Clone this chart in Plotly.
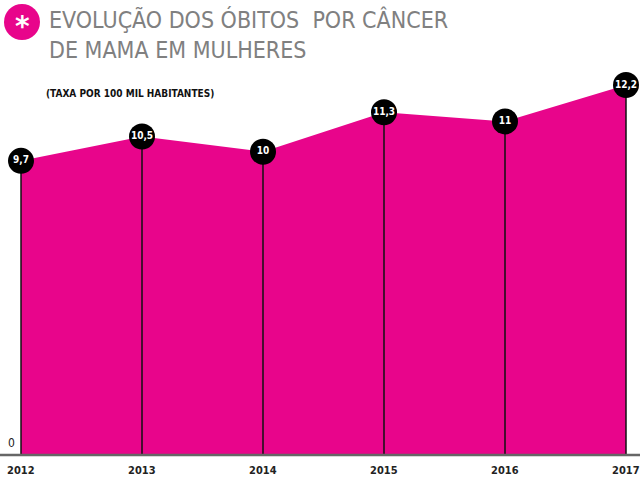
import plotly.graph_objects as go

years = [2012, 2013, 2014, 2015, 2016, 2017]
rates = [9.7, 10.5, 10.0, 11.3, 11.0, 12.2]
labels = ["9,7", "10,5", "10", "11,3", "11", "12,2"]

W, H = 640, 480
PINK = "#E8058B"
COND = "DejaVu Sans Condensed, Liberation Sans Narrow, sans-serif"

fig = go.Figure()

# pink area
fig.add_trace(go.Scatter(x=years, y=rates, mode="lines", fill="tozeroy",
                         line=dict(color=PINK, width=0), fillcolor=PINK,
                         hoverinfo="skip", showlegend=False))

# vertical drop lines
vx, vy = [], []
for yr, v in zip(years, rates):
    vx += [yr, yr, None]
    vy += [v, 0, None]
fig.add_trace(go.Scatter(x=vx, y=vy, mode="lines", line=dict(color="#111", width=1.5),
                         hoverinfo="skip", showlegend=False))

# markers with value labels
fig.add_trace(go.Scatter(x=years, y=rates, mode="markers+text", text=labels,
                         textposition="middle center",
                         textfont=dict(color="white", size=10, family=COND, weight="bold"),
                         marker=dict(color="black", size=26, line=dict(width=0)),
                         hoverinfo="skip", showlegend=False))

px_per_year = (626 - 21) / 5
x0 = years[0] - 21 / px_per_year
x1 = years[-1] + (W - 626) / px_per_year
scale = (455 - 85) / 12.2
y0 = -(H - 455) / scale
y1 = 455 / scale

fig.update_layout(
    width=W, height=H, margin=dict(l=0, r=0, t=0, b=0),
    paper_bgcolor="white", plot_bgcolor="white",
    xaxis=dict(range=[x0, x1], visible=False, fixedrange=True),
    yaxis=dict(range=[y0, y1], visible=False, fixedrange=True),
)

# baseline
fig.add_shape(type="line", xref="paper", yref="y", x0=0, x1=1, y0=0, y1=0,
              line=dict(color="#666", width=2.5))

# year labels
for yr in years:
    fig.add_annotation(x=yr, y=0, xref="x", yref="y", text=str(yr), showarrow=False,
                       yshift=-15, font=dict(family=COND, size=11, color="#222", weight="bold"))

fig.add_annotation(x=years[0], y=0, xref="x", yref="y", text="0", showarrow=False,
                   xanchor="right", xshift=-4, yshift=12,
                   font=dict(family=COND, size=12, color="#222"))

# title block
fig.add_shape(type="circle", xref="paper", yref="paper",
              x0=4 / W, x1=40 / W, y0=1 - 40 / H, y1=1 - 4 / H,
              fillcolor=PINK, line=dict(width=0))
fig.add_annotation(x=22 / W, y=1 - 22 / H, xref="paper", yref="paper", text="*",
                   showarrow=False, xanchor="center", yanchor="middle", yshift=-5,
                   font=dict(family="DejaVu Sans", size=28, color="white", weight="bold"))
fig.add_annotation(x=47 / W, y=1 - 4 / H, xref="paper", yref="paper",
                   text="EVOLUÇÃO DOS ÓBITOS  POR CÂNCER<br>DE MAMA EM MULHERES",
                   showarrow=False, xanchor="left", yanchor="top", align="left",
                   font=dict(family=COND, size=23, color="#808080", weight=300))
fig.add_annotation(x=44 / W, y=1 - 86 / H, xref="paper", yref="paper",
                   text="(TAXA POR 100 MIL HABITANTES)",
                   showarrow=False, xanchor="left", yanchor="top",
                   font=dict(family=COND, size=10, color="#111", weight="bold"))

fig.write_html("out.html", config={"displayModeBar": False},
               post_script="document.body.style.margin='0';document.body.style.overflow='hidden';")
